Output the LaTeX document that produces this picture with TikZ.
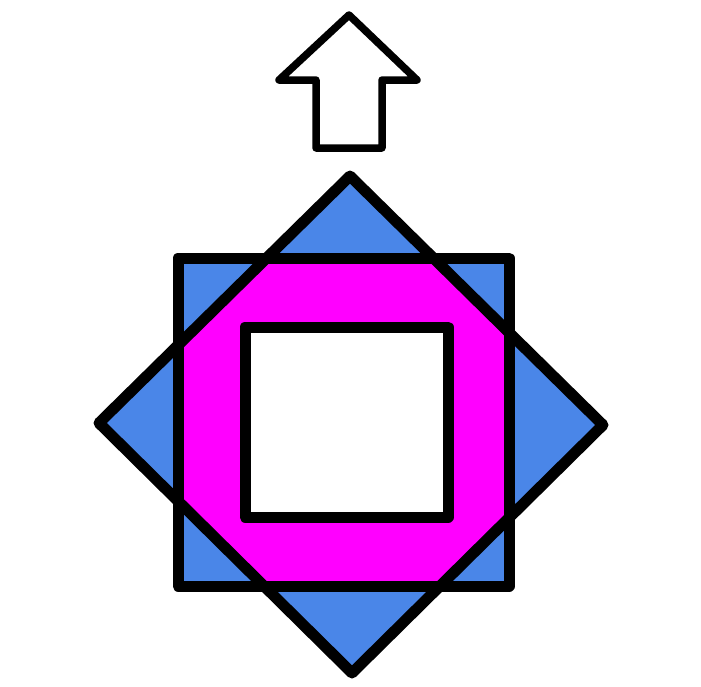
\documentclass[tikz,border=0pt]{standalone}
\begin{document}
\begin{tikzpicture}[x=1pt,y=-1pt,
  outline/.style={draw=black,line width=11pt,line join=round,line cap=round},
  arrowline/.style={draw=black,line width=7.5pt,line join=round,line cap=round,fill=white}]
\definecolor{bluefill}{HTML}{4A86E8}
\definecolor{magentafill}{HTML}{FF00FF}
\useasboundingbox (0,0) rectangle (701,686);
% coordinates
\coordinate (dT) at (350,176);
\coordinate (dL) at (99,423);
\coordinate (dB) at (352,673);
\coordinate (dR) at (603,425);
\coordinate (sA) at (178,258);
\coordinate (sB) at (509,586);
% blue fills
\fill[bluefill] (dT) -- (dL) -- (dB) -- (dR) -- cycle;
\fill[bluefill] (sA) rectangle (sB);
% magenta intersection
\begin{scope}
  \clip (dT) -- (dL) -- (dB) -- (dR) -- cycle;
  \fill[magentafill] (sA) rectangle (sB);
\end{scope}
% outlines
\draw[outline] (dT) -- (dL) -- (dB) -- (dR) -- cycle;
\draw[outline] (sA) rectangle (sB);
% inner square
\draw[outline,fill=white] (245,327) rectangle (448,517);
% arrow
\draw[arrowline] (349,15) -- (279,80) -- (316,80) -- (316,148) -- (382,148) -- (382,80) -- (417,80) -- cycle;
\end{tikzpicture}
\end{document}
